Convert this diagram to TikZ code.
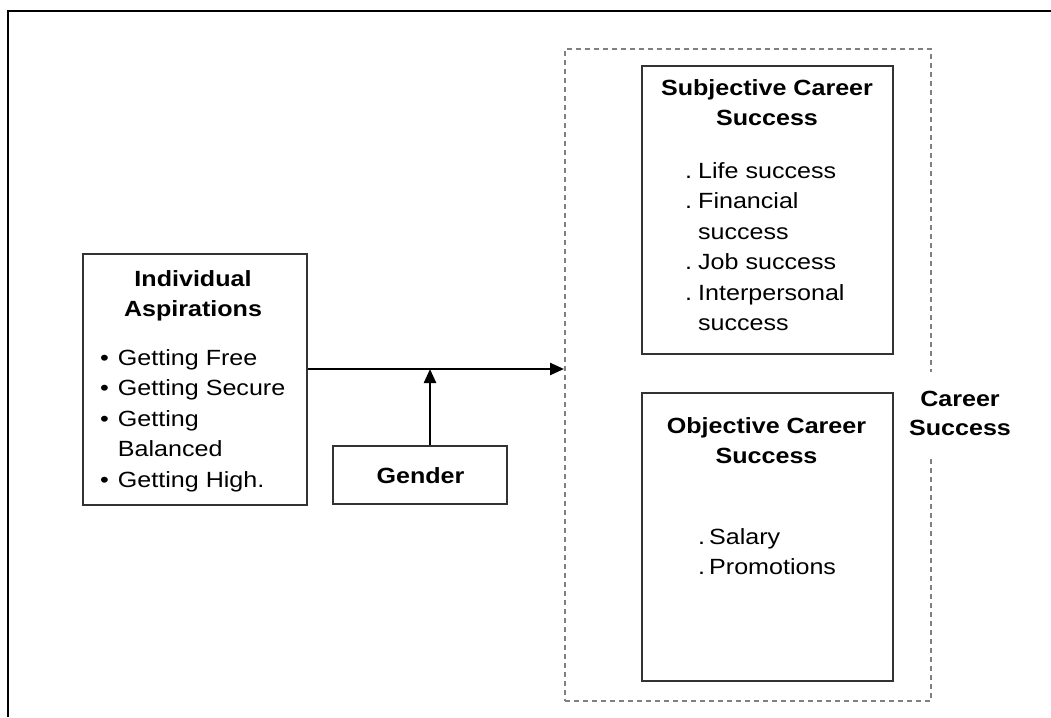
\documentclass[tikz,border=0pt]{standalone}
\usepackage{fontspec}
\setmainfont{Liberation Sans}[FakeStretch=1.14]
\usetikzlibrary{arrows.meta}
\def\itemlist[#1](#2){\begin{tabular}[t]{@{}l@{\hspace{#1}}l@{}}#2\end{tabular}}
\def\titlelines(#1){\begin{tabular}[t]{@{}c@{}}#1\end{tabular}}

\begin{document}
\begin{tikzpicture}[x=1pt, y=-1pt,
	box/.style={draw=black!80, line width=1.8pt, inner sep=0pt},
	txt/.style={inner sep=0pt, anchor=base, font=\fontsize{22}{30.5}\selectfont},
	title/.style={txt, font=\fontsize{22}{30.5}\selectfont\bfseries},
	flow/.style={line width=2.4pt, -{Triangle[length=14pt,width=12pt]}}]
			%%%%% START %%%%%
			\useasboundingbox (0,0) rectangle (1051,717);
			\draw[line width=2.2pt] (8,717) -- (8,11) -- (1051,11);
			
			% outer dashed group
			\node[box, draw=black!50, line width=2pt, dash pattern=on 5pt off 4pt,
				minimum width=366pt, minimum height=652pt] (succ) at (748,375) {};
			\node[title, fill=white, inner xsep=4pt, inner ysep=15pt,
				font=\fontsize{22}{28.5}\selectfont\bfseries] (succlabel) at (960,406.7) {\titlelines(Career\\Success)};
			
			% left box
			\node[box, minimum width=224pt, minimum height=251pt] (asp) at (195,379.5) {};
			\node[title] (asptitle) at (193,286) {\titlelines(Individual\\Aspirations)};
			\node[txt, anchor=base west] (asplist) at (100,365) {\itemlist[9pt](%
				\textbullet & Getting Free\\
				\textbullet & Getting Secure\\
				\textbullet & Getting\\
				 & Balanced\\
				\textbullet & Getting High.)};
			
			% moderator
			\node[box, minimum width=174pt, minimum height=58pt] (gender) at (420,475) {};
			\node[title] (gendertext) at (420.5,483) {Gender};
			
			% subjective
			\node[box, minimum width=251pt, minimum height=288pt] (subj) at (767.5,210) {};
			\node[title] (subjtitle) at (767,95) {\titlelines(Subjective Career\\Success)};
			\node[txt, anchor=base west] (subjlist) at (685,178) {\itemlist[6pt](%
				. & Life success\\
				. & Financial\\
				 & success\\
				. & Job success\\
				. & Interpersonal\\
				 & success)};
			
			% objective
			\node[box, minimum width=251pt, minimum height=288pt] (obj) at (767.5,537) {};
			\node[title] (objtitle) at (766.5,433) {\titlelines(Objective Career\\Success)};
			\node[txt, anchor=base west] (objlist) at (698,544) {\itemlist[4pt](%
				. & Salary\\
				. & Promotions)};
			
			% arrows
			\coordinate (join) at (430,369);
			\draw[flow] (asp.east |- join) -- (succ.west |- join);
			\draw[flow] (gender.north -| join) -- (join);
			%%%%% END %%%%%
\end{tikzpicture}
\end{document}
